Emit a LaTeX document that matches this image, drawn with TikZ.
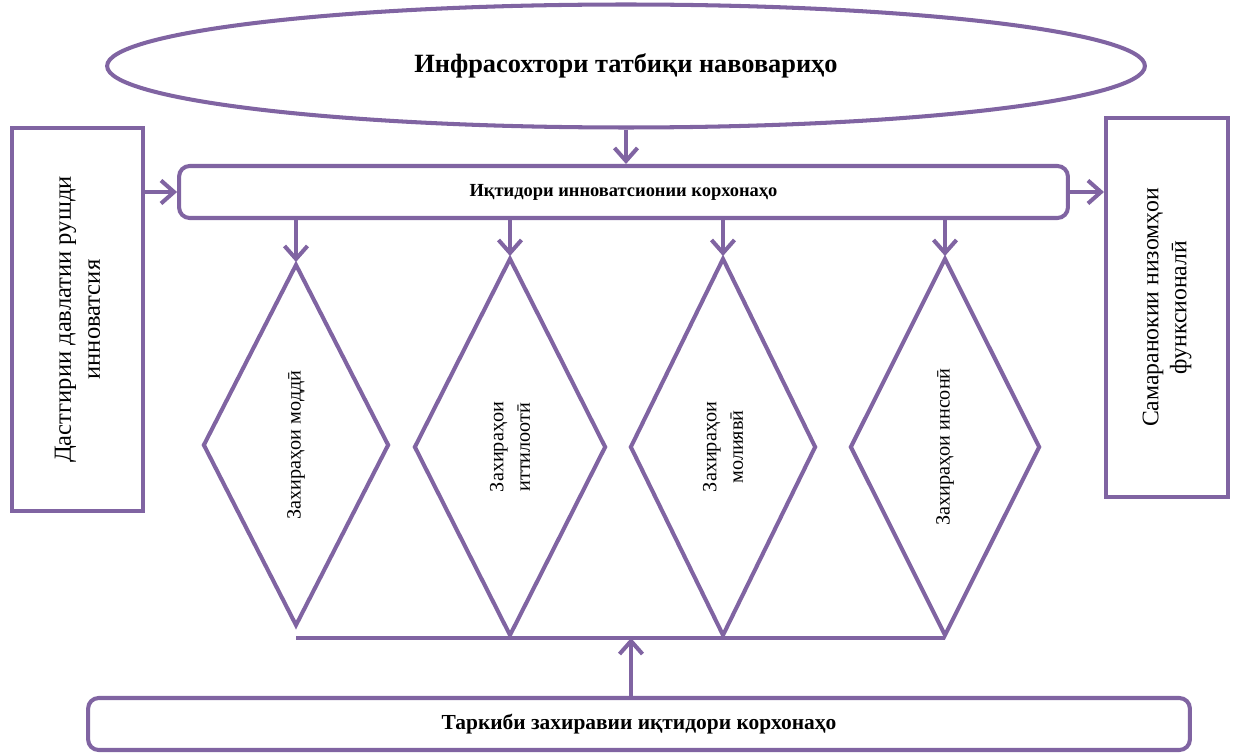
\documentclass[tikz,border=0pt]{standalone}
\usepackage{fontspec}
\setmainfont{Liberation Serif}
\usetikzlibrary{arrows.meta,shapes.geometric}
\definecolor{Purple}{HTML}{8064A2}

\begin{document}
\begin{tikzpicture}[x=0.02cm,y=-0.02cm,
    frame/.style={draw=Purple,line width=2.3pt,inner sep=0pt},
    bar/.style={frame,rounded corners=6pt,minimum height=1.04cm},
    tallbox/.style={frame,rotate=90,align=center,font=\fontsize{14}{16.5}\selectfont},
    gem/.style={frame,diamond,rotate=90,align=center,font=\fontsize{11.5}{15}\selectfont},
    link/.style={Purple,line width=2.3pt},
    arr/.style={link,-{Straight Barb[length=2.6mm,width=4.6mm]}}
  ]
    \useasboundingbox (0,0) rectangle (1233,753);
    \node[frame,ellipse,minimum width=20.76cm,minimum height=2.46cm,
      font=\fontsize{15}{18}\selectfont\bfseries] (infra) at (626,66)
      {Инфрасохтори татбиқи навовариҳо};
    \node[bar,minimum width=17.78cm,font=\fontsize{10.5}{12}\selectfont\bfseries]
      (top) at (623.5,192) {Иқтидори инноватсионии корхонаҳо};
    \node[bar,minimum width=22.04cm,font=\fontsize{12.2}{14}\selectfont\bfseries]
      (bot) at (639,724) {Таркиби захиравии иқтидори корхонаҳо};
    % rotated boxes: south = right side, north = left side
    \node[tallbox,minimum width=7.66cm,minimum height=2.62cm] (state) at (77.5,319.5)
      {Дастгирии давлатии рушди\\инноватсия};
    \node[tallbox,minimum width=7.58cm,minimum height=2.44cm,font=\fontsize{13.5}{16}\selectfont]
      (effect) at (1167,307.5) {Самаранокии низомҳои\\функсионалӣ};
    % diamonds: east = top vertex, west = bottom vertex
    \node[gem,minimum width=7.24cm,minimum height=3.72cm] (d1) at (296,445) {Захираҳои моддӣ};
    \node[gem,minimum width=7.56cm,minimum height=3.84cm] (d2) at (510,447) {Захираҳои\\иттилоотӣ};
    \node[gem,minimum width=7.56cm,minimum height=3.72cm] (d3) at (723,447) {Захираҳои\\молиявӣ};
    \node[gem,minimum width=7.56cm,minimum height=3.8cm] (d4) at (945,447) {Захираҳои инсонӣ};
    \coordinate (join) at (631,636);

    \draw[arr] (infra.south) -- (infra.south |- top.north);
    \draw[arr] (state.south |- top.west) -- (top.west);
    \draw[arr] (top.east) -- (effect.north |- top.east);
    \foreach \d in {d1,d2,d3,d4}
      \draw[arr] (\d.east |- top.south) -- (\d.east);
    \draw[link] (d1.west |- d4.west) -- (d4.west);
    \draw[arr] (join |- bot.north) -- (join |- d4.west);
  \end{tikzpicture}
\end{document}
